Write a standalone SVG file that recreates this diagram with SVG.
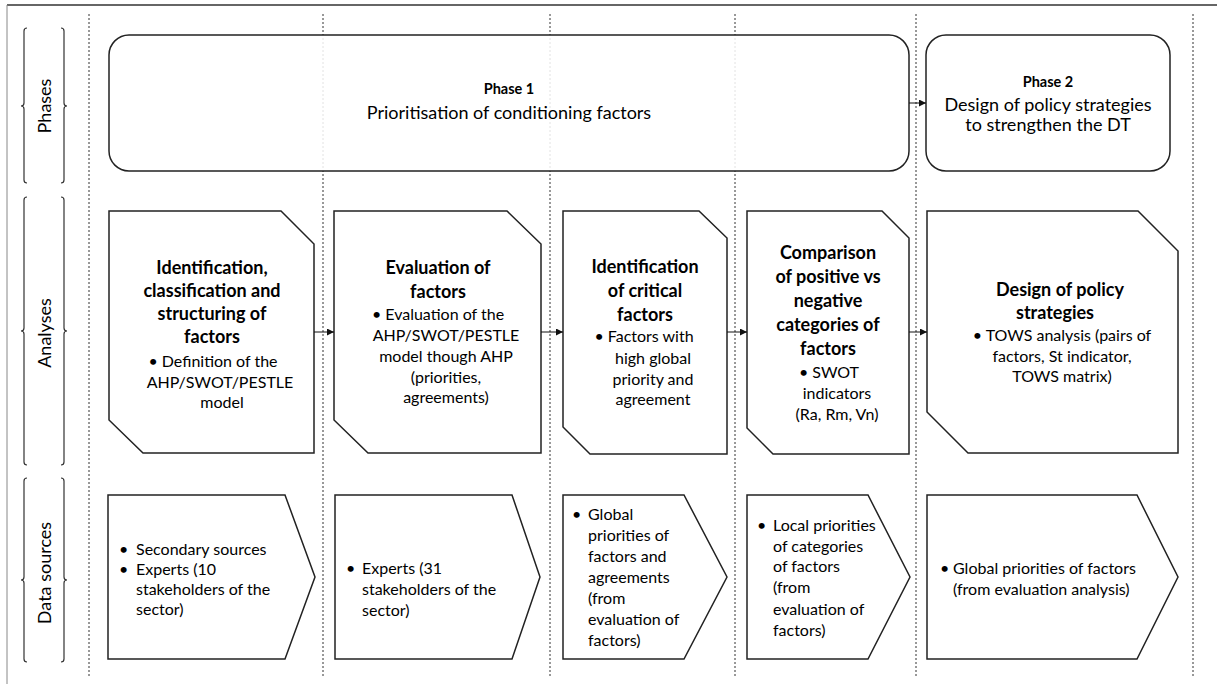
<svg xmlns="http://www.w3.org/2000/svg" width="1217" height="684" viewBox="0 0 1217 684">
<defs>
<marker id="ah" markerWidth="7" markerHeight="7" refX="7" refY="3.5" orient="auto" markerUnits="userSpaceOnUse">
<path d="M0,0 L7,3.5 L0,7 z" fill="#111"/>
</marker>
<style>
.dot{stroke:#333;stroke-width:1;stroke-dasharray:2 2;fill:none}
.box{fill:#fff;stroke:#222;stroke-width:1.5}
.ph{fill:#fff;fill-opacity:0.86;stroke:#222;stroke-width:1.5}
.brace{fill:none;stroke:#333;stroke-width:1.2}
.conn{stroke:#111;stroke-width:1;fill:none;marker-end:url(#ah)}
text{font-family:Lato,"Liberation Sans",sans-serif;fill:#000}
.lbl{font-size:18px;text-anchor:middle}
.b{font-size:18px;font-weight:bold;text-anchor:middle}
.r{font-size:16px;text-anchor:middle}
.d{font-size:16px}
.pt{font-size:14.5px;font-weight:bold;text-anchor:middle}
.pr{font-size:18px;text-anchor:middle}
</style>
</defs>
<rect width="1217" height="684" fill="#fff"/>
<g id="frame">
<line x1="7" y1="5" x2="1217" y2="5" stroke="#333" stroke-width="1.5"/>
<line x1="7" y1="5" x2="7" y2="684" stroke="#888" stroke-width="1"/>
</g>
<g id="gridlines">
<line class="dot" x1="89" y1="14" x2="89" y2="676"/>
<line class="dot" x1="323" y1="14" x2="323" y2="676"/>
<line class="dot" x1="550" y1="14" x2="550" y2="676"/>
<line class="dot" x1="735" y1="14" x2="735" y2="676"/>
<line class="dot" x1="916" y1="14" x2="916" y2="676"/>
<line class="dot" x1="1193" y1="14" x2="1193" y2="676"/>
</g>
<g id="row-labels">
<path class="brace" d="M27,28 Q24,28 24,31 L24,103 Q24,106 21,106 Q24,106 24,109 L24,180 Q24,183 27,183"/>
<path class="brace" d="M61,28 Q64,28 64,31 L64,103 Q64,106 67,106 Q64,106 64,109 L64,180 Q64,183 61,183"/>
<text class="lbl" transform="translate(51,106) rotate(-90)">Phases</text>
<path class="brace" d="M27,197 Q24,197 24,200 L24,328 Q24,331 21,331 Q24,331 24,334 L24,462 Q24,465 27,465"/>
<path class="brace" d="M61,197 Q64,197 64,200 L64,328 Q64,331 67,331 Q64,331 64,334 L64,462 Q64,465 61,465"/>
<text class="lbl" transform="translate(51,333) rotate(-90)">Analyses</text>
<path class="brace" d="M27,478 Q24,478 24,481 L24,577 Q24,580 21,580 Q24,580 24,583 L24,659 Q24,662 27,662"/>
<path class="brace" d="M61,478 Q64,478 64,481 L64,577 Q64,580 67,580 Q64,580 64,583 L64,659 Q64,662 61,662"/>
<text class="lbl" transform="translate(51,573) rotate(-90)">Data sources</text>
</g>
<g id="phase1">
<rect class="ph" x="109" y="35" width="800" height="136" rx="20"/>
<text class="pt" x="509" y="94">Phase 1</text>
<text class="pr" x="509" y="119">Prioritisation of conditioning factors</text>
</g>
<g id="phase2">
<rect class="ph" x="926" y="35" width="244" height="136" rx="20"/>
<text class="pt" x="1048" y="87">Phase 2</text>
<text class="pr" x="1048" y="111">Design of policy strategies</text>
<text class="pr" x="1048" y="131">to strengthen the DT</text>
</g>
<g id="analysis1">
<polygon class="box" points="109,211 281,211 314,244 314,453 143,453 109,420"/>
<text class="b" x="212" y="274">Identification,</text>
<text class="b" x="212" y="297">classification and</text>
<text class="b" x="212" y="320">structuring of</text>
<text class="b" x="212" y="343">factors</text>
<text class="r" x="213" y="367">•  Definition of the</text>
<text class="r" x="220" y="388">AHP/SWOT/PESTLE</text>
<text class="r" x="222" y="408">model</text>
</g>
<g id="analysis2">
<polygon class="box" points="334,211 507,211 541,244 541,453 368,453 334,420"/>
<text class="b" x="438" y="274">Evaluation of</text>
<text class="b" x="438" y="298">factors</text>
<text class="r" x="438" y="320">•  Evaluation of the</text>
<text class="r" x="446" y="341">AHP/SWOT/PESTLE</text>
<text class="r" x="446" y="362">model though AHP</text>
<text class="r" x="446" y="383">(priorities,</text>
<text class="r" x="446" y="403">agreements)</text>
</g>
<g id="analysis3">
<polygon class="box" points="563,211 699,211 727,238 727,454 590,454 563,427"/>
<text class="b" x="645" y="273">Identification</text>
<text class="b" x="645" y="297">of critical</text>
<text class="b" x="645" y="321">factors</text>
<text class="r" x="644" y="342">•  Factors with</text>
<text class="r" x="653" y="364">high global</text>
<text class="r" x="653" y="385">priority and</text>
<text class="r" x="653" y="405">agreement</text>
</g>
<g id="analysis4">
<polygon class="box" points="747,211 882,211 909,238 909,454 773,454 747,428"/>
<text class="b" x="828" y="259">Comparison</text>
<text class="b" x="828" y="283">of positive vs</text>
<text class="b" x="828" y="307">negative</text>
<text class="b" x="828" y="331">categories of</text>
<text class="b" x="828" y="355">factors</text>
<text class="r" x="829" y="378">•  SWOT</text>
<text class="r" x="837" y="399">indicators</text>
<text class="r" x="837" y="420">(Ra, Rm, Vn)</text>
</g>
<g id="analysis5">
<polygon class="box" points="927,211 1138,211 1178,251 1178,453 968,453 927,412"/>
<text class="b" x="1060" y="296">Design of policy</text>
<text class="b" x="1055" y="319">strategies</text>
<text class="r" x="1062" y="341">•  TOWS analysis (pairs of</text>
<text class="r" x="1062" y="362">factors, St indicator,</text>
<text class="r" x="1062" y="382">TOWS matrix)</text>
</g>
<g id="source1">
<polygon class="box" points="108,495 285,495 315,577 285,659 108,659"/>
<text class="d" x="119" y="555">•</text>
<text class="d" x="136" y="555">Secondary sources</text>
<text class="d" x="119" y="575">•</text>
<text class="d" x="136" y="575">Experts (10</text>
<text class="d" x="136" y="595">stakeholders of the</text>
<text class="d" x="136" y="615">sector)</text>
</g>
<g id="source2">
<polygon class="box" points="335,495 512,495 540,577 512,659 335,659"/>
<text class="d" x="346" y="574">•</text>
<text class="d" x="362" y="574">Experts (31</text>
<text class="d" x="362" y="595">stakeholders of the</text>
<text class="d" x="362" y="616">sector)</text>
</g>
<g id="source3">
<polygon class="box" points="563,495 684,495 727,577 684,659 563,659"/>
<text class="d" x="572" y="520">•</text>
<text class="d" x="588" y="520">Global</text>
<text class="d" x="588" y="541">priorities of</text>
<text class="d" x="588" y="562">factors and</text>
<text class="d" x="588" y="583">agreements</text>
<text class="d" x="588" y="604">(from</text>
<text class="d" x="588" y="625">evaluation of</text>
<text class="d" x="588" y="646">factors)</text>
</g>
<g id="source4">
<polygon class="box" points="747,495 868,495 910,577 868,659 747,659"/>
<text class="d" x="757" y="531">•</text>
<text class="d" x="773" y="531">Local priorities</text>
<text class="d" x="773" y="552">of categories</text>
<text class="d" x="773" y="572">of factors</text>
<text class="d" x="773" y="593">(from</text>
<text class="d" x="773" y="615">evaluation of</text>
<text class="d" x="773" y="636">factors)</text>
</g>
<g id="source5">
<polygon class="box" points="927,495 1137,495 1178,577 1137,659 927,659"/>
<text class="d" x="940" y="574">•</text>
<text class="d" x="953" y="574">Global priorities of factors</text>
<text class="d" x="953" y="595">(from evaluation analysis)</text>
</g>
<g id="connectors">
<line class="conn" x1="909" y1="103" x2="926" y2="103"/>
<line class="conn" x1="314" y1="332" x2="334" y2="332"/>
<line class="conn" x1="541" y1="332" x2="563" y2="332"/>
<line class="conn" x1="727" y1="332" x2="747" y2="332"/>
<line class="conn" x1="909" y1="332" x2="927" y2="332"/>
</g>
</svg>
